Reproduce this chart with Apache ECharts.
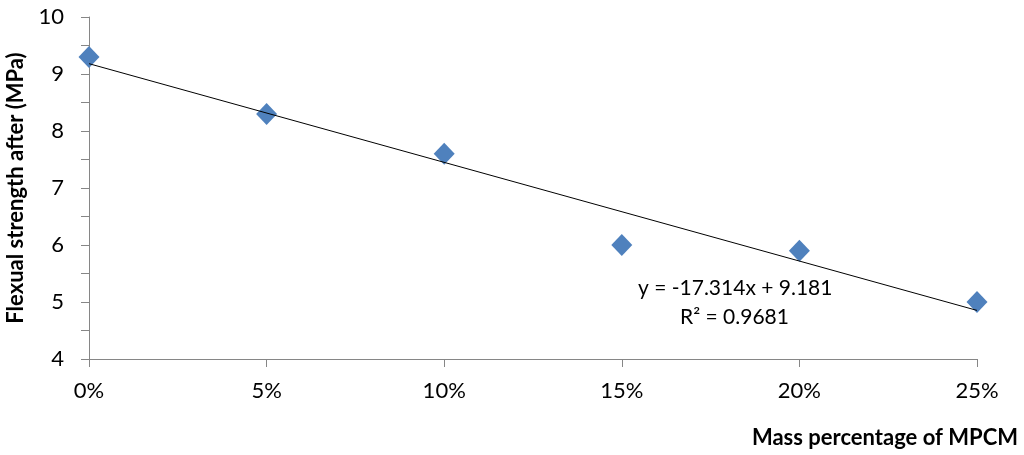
<!DOCTYPE html>
<html>
<head>
<meta charset="utf-8">
<script src="https://cdn.jsdelivr.net/npm/echarts@6/dist/echarts.min.js"></script>
<style>
html,body{margin:0;padding:0;background:#fff;}
#chart{width:1024px;height:455px;}
</style>
</head>
<body>
<div id="chart"></div>
<script>
const massFraction = [0, 0.05, 0.10, 0.15, 0.20, 0.25];
const flexuralStrength = [9.3, 8.3, 7.6, 6.0, 5.9, 5.0];
const trendSlope = -17.314;
const trendIntercept = 9.181;
const rSquared = 0.9681;
const xTickValues = [0, 0.05, 0.10, 0.15, 0.20, 0.25];
const yTickValues = [4, 5, 6, 7, 8, 9, 10];

const FONT = 'Lato, "Open Sans", sans-serif';
const chart = echarts.init(document.getElementById('chart'));

const trendX = [massFraction[0], massFraction[massFraction.length - 1]];
const trendData = trendX.map(x => [x, trendSlope * x + trendIntercept]);

chart.setOption({
  animation: false,
  backgroundColor: '#fff',
  grid: {left: 89, right: 47, top: 17, bottom: 96, containLabel: false, outerBoundsMode: 'none'},
  xAxis: {
    type: 'value', min: 0, max: 0.25, interval: 0.05,
    name: 'Mass percentage of MPCM',
    nameLocation: 'end',
    nameGap: 0,
    nameTextStyle: {fontFamily: FONT, fontWeight: 'bold', fontSize: 22, color: '#000',
      align: 'right', verticalAlign: 'top', padding: [68, -41, 0, 0]},
    axisLine: {show: true, lineStyle: {color: '#868686', width: 1}},
    axisTick: {show: true, inside: false, length: 8, lineStyle: {color: '#868686'}},
    splitLine: {show: false},
    axisLabel: {fontFamily: FONT, fontSize: 22, color: '#000', margin: 21,
      formatter: v => Math.round(v * 100) + '%'}
  },
  yAxis: {
    type: 'value', min: 4, max: 10, interval: 0.5,
    name: 'Flexual strength after (MPa)',
    nameLocation: 'middle',
    nameGap: 62,
    nameRotate: 90,
    nameTextStyle: {fontFamily: FONT, fontWeight: 'bold', fontSize: 22, color: '#000'},
    axisLine: {show: true, lineStyle: {color: '#868686', width: 1}},
    axisTick: {show: true, inside: false, length: 8, lineStyle: {color: '#868686'}},
    splitLine: {show: false},
    axisLabel: {fontFamily: FONT, fontSize: 22, color: '#000', margin: 25,
      formatter: v => (yTickValues.indexOf(v) >= 0 ? String(v) : '')}
  },
  series: [
    {
      type: 'line',
      data: trendData,
      showSymbol: false,
      symbol: 'none',
      lineStyle: {color: '#000', width: 1},
      z: 3
    },
    {
      type: 'scatter',
      data: massFraction.map((x, i) => [x, flexuralStrength[i]]),
      symbol: 'diamond',
      symbolSize: [21, 22],
      itemStyle: {color: '#4F81BD', opacity: 1},
      z: 2
    }
  ],
  graphic: [
    {type: 'text', x: 638, y: 288,
      style: {text: 'y = -17.314x + 9.181', fontFamily: FONT, fontSize: 21, fill: '#000',
        align: 'left', verticalAlign: 'middle'}},
    {type: 'text', x: 680, y: 317,
      style: {text: 'R² = ' + rSquared, fontFamily: FONT, fontSize: 21, fill: '#000',
        align: 'left', verticalAlign: 'middle'}}
  ]
});
</script>
</body>
</html>
